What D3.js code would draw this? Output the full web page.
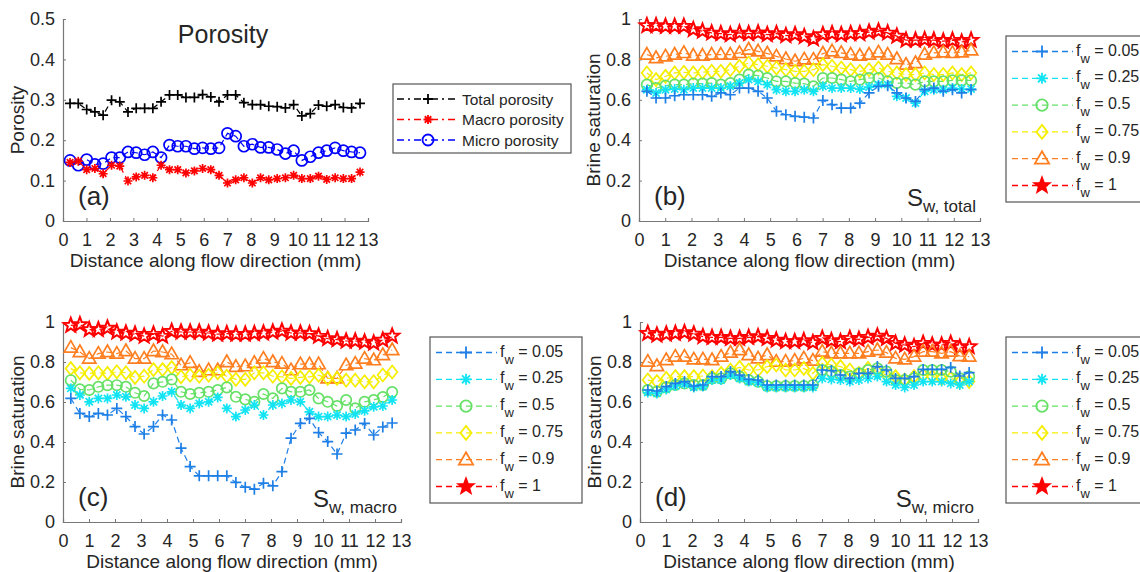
<!DOCTYPE html>
<html><head><meta charset="utf-8">
<script src="https://cdn.jsdelivr.net/npm/d3@7"></script>
<style>body{margin:0;background:#fff}svg{display:block}text{font-family:"Liberation Sans",Arial,sans-serif;fill:#262626}</style>
</head><body><svg id="chart" width="1140" height="572"></svg>
<script>
// ---------------- DATA ----------------
const distance = [0.30,0.65,1.01,1.36,1.71,2.07,2.42,2.77,3.12,3.48,3.83,4.18,4.54,4.89,5.24,5.60,5.95,6.30,6.65,7.01,7.36,7.71,8.07,8.42,8.77,9.13,9.48,9.83,10.18,10.54,10.89,11.24,11.60,11.95,12.30,12.66];
const xTicks = [0,1,2,3,4,5,6,7,8,9,10,11,12,13];
const porosityTicks = [0,0.1,0.2,0.3,0.4,0.5];
const saturationTicks = [0,0.2,0.4,0.6,0.8,1];

const totalPorosity = [0.291,0.291,0.276,0.270,0.262,0.299,0.295,0.270,0.279,0.279,0.279,0.295,0.312,0.312,0.306,0.306,0.313,0.307,0.295,0.312,0.312,0.293,0.288,0.288,0.284,0.283,0.280,0.288,0.260,0.266,0.287,0.284,0.288,0.281,0.280,0.291];
const macroPorosity = [0.145,0.148,0.127,0.130,0.117,0.138,0.136,0.099,0.109,0.113,0.107,0.138,0.127,0.127,0.119,0.124,0.130,0.127,0.113,0.094,0.102,0.107,0.094,0.107,0.102,0.105,0.107,0.113,0.105,0.105,0.111,0.103,0.107,0.105,0.105,0.121];
const microPorosity = [0.150,0.138,0.152,0.140,0.142,0.157,0.157,0.171,0.169,0.164,0.171,0.157,0.188,0.185,0.185,0.179,0.181,0.179,0.181,0.217,0.210,0.185,0.190,0.182,0.182,0.177,0.167,0.174,0.150,0.159,0.169,0.174,0.181,0.174,0.171,0.169];
const porosityNames = ["Total porosity","Macro porosity","Micro porosity"];

const fwLabels = ["0.05","0.25","0.5","0.75","0.9","1"];

// (b) S_w, total
const totalFw005 = [0.642,0.609,0.609,0.620,0.625,0.625,0.625,0.617,0.634,0.625,0.658,0.658,0.642,0.609,0.543,0.526,0.518,0.514,0.510,0.597,0.576,0.559,0.559,0.584,0.634,0.667,0.670,0.634,0.609,0.592,0.650,0.658,0.642,0.650,0.634,0.650];
const totalFw025 = [0.650,0.634,0.650,0.653,0.650,0.658,0.658,0.658,0.658,0.667,0.683,0.700,0.691,0.675,0.650,0.642,0.642,0.650,0.642,0.667,0.658,0.658,0.658,0.653,0.663,0.675,0.675,0.617,0.609,0.584,0.642,0.650,0.650,0.658,0.653,0.653];
const totalFw05  = [0.675,0.658,0.670,0.675,0.675,0.680,0.680,0.683,0.675,0.683,0.700,0.725,0.720,0.708,0.691,0.691,0.683,0.680,0.667,0.708,0.708,0.700,0.691,0.700,0.708,0.708,0.691,0.683,0.683,0.675,0.691,0.691,0.691,0.696,0.696,0.696];
const totalFw075 = [0.733,0.700,0.716,0.733,0.736,0.733,0.736,0.741,0.741,0.749,0.766,0.782,0.774,0.766,0.757,0.749,0.741,0.741,0.749,0.774,0.766,0.757,0.749,0.741,0.749,0.757,0.741,0.733,0.725,0.725,0.733,0.725,0.725,0.733,0.725,0.733];
const totalFw09  = [0.824,0.807,0.815,0.824,0.832,0.819,0.819,0.824,0.824,0.824,0.832,0.849,0.840,0.829,0.815,0.802,0.791,0.800,0.799,0.829,0.840,0.832,0.824,0.819,0.824,0.835,0.824,0.802,0.774,0.782,0.824,0.832,0.835,0.832,0.835,0.845];
const totalFw1   = [0.967,0.967,0.964,0.964,0.964,0.948,0.940,0.931,0.928,0.923,0.931,0.928,0.931,0.923,0.928,0.918,0.923,0.913,0.902,0.923,0.928,0.923,0.928,0.928,0.935,0.940,0.931,0.915,0.895,0.895,0.898,0.895,0.890,0.895,0.886,0.895];

// (c) S_w, macro
const macroFw005 = [0.618,0.543,0.527,0.543,0.535,0.568,0.527,0.477,0.440,0.477,0.535,0.510,0.369,0.277,0.231,0.231,0.231,0.231,0.198,0.174,0.164,0.194,0.181,0.252,0.419,0.493,0.518,0.447,0.402,0.340,0.444,0.460,0.493,0.435,0.475,0.495];
const macroFw025 = [0.668,0.635,0.601,0.618,0.618,0.635,0.626,0.585,0.568,0.601,0.630,0.651,0.585,0.568,0.593,0.601,0.623,0.568,0.527,0.560,0.585,0.535,0.585,0.593,0.610,0.601,0.551,0.527,0.527,0.535,0.527,0.540,0.556,0.576,0.580,0.610];
const macroFw05  = [0.709,0.663,0.660,0.676,0.684,0.684,0.676,0.646,0.630,0.693,0.701,0.713,0.651,0.640,0.646,0.651,0.660,0.673,0.626,0.613,0.601,0.640,0.618,0.668,0.651,0.651,0.660,0.618,0.601,0.580,0.610,0.568,0.601,0.610,0.625,0.650];
const macroFw075 = [0.767,0.746,0.743,0.746,0.743,0.751,0.746,0.723,0.729,0.762,0.762,0.772,0.726,0.734,0.729,0.734,0.746,0.729,0.713,0.713,0.746,0.746,0.729,0.726,0.718,0.723,0.726,0.734,0.718,0.718,0.709,0.709,0.701,0.701,0.735,0.750];
const macroFw09  = [0.872,0.850,0.817,0.842,0.850,0.842,0.855,0.817,0.817,0.855,0.850,0.839,0.784,0.796,0.751,0.759,0.759,0.800,0.776,0.779,0.796,0.817,0.800,0.792,0.759,0.789,0.789,0.789,0.718,0.718,0.784,0.792,0.817,0.809,0.835,0.860];
const macroFw1   = [0.983,0.987,0.962,0.962,0.970,0.950,0.945,0.939,0.929,0.939,0.929,0.953,0.950,0.950,0.950,0.945,0.939,0.942,0.939,0.939,0.942,0.945,0.950,0.955,0.945,0.945,0.942,0.929,0.917,0.912,0.905,0.905,0.900,0.895,0.910,0.930];

// (d) S_w, micro
const microFw005 = [0.660,0.655,0.677,0.693,0.702,0.680,0.685,0.727,0.727,0.752,0.735,0.713,0.710,0.685,0.685,0.685,0.685,0.685,0.685,0.760,0.757,0.735,0.718,0.743,0.743,0.777,0.760,0.718,0.718,0.727,0.763,0.763,0.763,0.773,0.730,0.747];
const microFw025 = [0.647,0.643,0.663,0.680,0.690,0.673,0.677,0.710,0.710,0.735,0.718,0.702,0.697,0.673,0.673,0.673,0.673,0.673,0.673,0.718,0.713,0.710,0.702,0.710,0.718,0.727,0.702,0.685,0.673,0.685,0.702,0.702,0.702,0.693,0.685,0.702];
const microFw05  = [0.660,0.652,0.673,0.685,0.693,0.685,0.685,0.718,0.718,0.743,0.727,0.710,0.702,0.680,0.680,0.680,0.680,0.680,0.685,0.760,0.752,0.735,0.727,0.743,0.760,0.768,0.752,0.710,0.710,0.718,0.760,0.760,0.760,0.752,0.718,0.727];
const microFw075 = [0.710,0.702,0.718,0.727,0.727,0.727,0.730,0.727,0.743,0.760,0.773,0.760,0.760,0.777,0.785,0.760,0.760,0.768,0.743,0.793,0.785,0.777,0.760,0.743,0.768,0.752,0.735,0.727,0.710,0.727,0.735,0.727,0.718,0.718,0.702,0.702];
const microFw09  = [0.802,0.780,0.810,0.827,0.827,0.813,0.813,0.810,0.827,0.847,0.860,0.835,0.818,0.835,0.802,0.802,0.807,0.818,0.807,0.852,0.843,0.843,0.843,0.843,0.852,0.860,0.847,0.818,0.813,0.827,0.852,0.852,0.843,0.852,0.830,0.827];
const microFw1   = [0.943,0.935,0.940,0.943,0.947,0.940,0.927,0.923,0.923,0.918,0.918,0.923,0.927,0.918,0.910,0.902,0.902,0.907,0.897,0.918,0.907,0.902,0.918,0.913,0.923,0.930,0.918,0.893,0.885,0.877,0.893,0.885,0.885,0.893,0.873,0.877];

// ---------------- STYLE ----------------
const fwColors = ["#1e7fe6","#12e4f4","#66e066","#f5ee00","#ff7f20","#ff0000"];
const fwMarkers = ["plus","asterisk","circle","diamond","triangle","star"];
const fwSizes = [5.5,5,5.2,6.5,7,7.5];
const porColors = ["#000000","#ff0000","#0000ff"];
const porMarkers = ["plus","asterisk","circle"];
const porSizes = [5,4.5,5.5];

const svg = d3.select("#chart");

function markerPath(type, r){
  if(type==="plus") return `M${-r},0H${r}M0,${-r}V${r}`;
  if(type==="asterisk"){const d=r*0.72;return `M${-r},0H${r}M0,${-r}V${r}M${-d},${-d}L${d},${d}M${-d},${d}L${d},${-d}`;}
  if(type==="circle") return `M${r},0A${r},${r} 0 1,1 ${-r},0A${r},${r} 0 1,1 ${r},0Z`;
  if(type==="diamond") return `M0,${-r}L${r*0.8},0L0,${r}L${-r*0.8},0Z`;
  if(type==="triangle") return `M0,${-r}L${r*0.95},${r*0.65}L${-r*0.95},${r*0.65}Z`;
  if(type==="star"){
    let p=[];for(let k=0;k<10;k++){const a=-Math.PI/2+k*Math.PI/5;const rr=k%2?r*0.42:r;p.push([rr*Math.cos(a),rr*Math.sin(a)]);}
    return "M"+p.map(q=>q[0].toFixed(2)+","+q[1].toFixed(2)).join("L")+"Z";
  }
}

function drawPanel(cfg, series){
  const x = d3.scaleLinear().domain([0,13]).range([cfg.left,cfg.right]);
  const y = d3.scaleLinear().domain([0,cfg.ymax]).range([cfg.bottom,cfg.top]);
  const g = svg.append("g");
  const xa = g.append("g").attr("transform",`translate(0,${cfg.bottom})`)
    .call(d3.axisBottom(x).tickValues(xTicks).tickSize(-3).tickPadding(9).tickFormat(d3.format("d")));
  const ya = g.append("g").attr("transform",`translate(${cfg.left},0)`)
    .call(d3.axisLeft(y).tickValues(cfg.ticks).tickSize(-3).tickPadding(8).tickFormat(d=>String(d)));
  [xa,ya].forEach(a=>{
    a.select(".domain").attr("stroke","#777").attr("stroke-width",1.2);
    a.selectAll(".tick line").attr("stroke","#777");
    a.selectAll("text").style("font-size","18px").attr("fill","#262626");
  });
  xa.selectAll("text").attr("dy","0.9em");
  g.append("text").attr("x",(cfg.left+cfg.right)/2).attr("y",cfg.bottom+46)
    .attr("text-anchor","middle").style("font-size","19px").text("Distance along flow direction (mm)");
  g.append("text").attr("transform",`translate(${cfg.left-39},${(cfg.top+cfg.bottom)/2}) rotate(-90)`)
    .attr("text-anchor","middle").style("font-size","19px").text(cfg.ylabel);
  const line = d3.line().x(d=>x(d[0])).y(d=>y(d[1]));
  series.slice().reverse().forEach(s=>{
    const pts = distance.map((d,i)=>[d,s.values[i]]);
    g.append("path").attr("d",line(pts)).attr("fill","none").attr("stroke",s.color)
      .attr("stroke-width",1.2).attr("stroke-dasharray","6,4");
    g.selectAll(null).data(pts).enter().append("path")
      .attr("transform",d=>`translate(${x(d[0])},${y(d[1])})`)
      .attr("d",markerPath(s.marker,s.size)).attr("fill","none")
      .attr("stroke",s.color).attr("stroke-width",s.marker==="star"?2:1.7);
  });
  g.append("text").attr("x",cfg.left+15).attr("y",cfg.bottom-16).style("font-size","26px").text(cfg.letter);
  if(cfg.sub){
    const t=g.append("text").attr("x",cfg.right-4).attr("y",cfg.bottom-15).attr("text-anchor","end");
    t.append("tspan").style("font-size","24px").text("S");
    t.append("tspan").style("font-size","17px").attr("dy",6).text(cfg.sub);
  }
}

function drawFwLegend(left, top){
  const g = svg.append("g");
  g.append("rect").attr("x",left).attr("y",top).attr("width",152).attr("height",166)
    .attr("fill","#fff").attr("stroke","#555").attr("stroke-width",1.2);
  fwLabels.forEach((lab,k)=>{
    const yy = top+15.5+k*26.8;
    g.append("line").attr("x1",left+6).attr("x2",left+67).attr("y1",yy).attr("y2",yy)
      .attr("stroke",fwColors[k]).attr("stroke-width",1.3).attr("stroke-dasharray","6,4");
    g.append("path").attr("transform",`translate(${left+36},${yy})`).attr("d",markerPath(fwMarkers[k],fwSizes[k]+0.5))
      .attr("fill",fwMarkers[k]==="star"?fwColors[k]:"none").attr("stroke",fwColors[k]).attr("stroke-width",1.8);
    const t = g.append("text").attr("x",left+70).attr("y",yy+4).style("font-size","16px");
    t.append("tspan").text("f");
    t.append("tspan").attr("dy",7).style("font-size","13px").text("w");
    t.append("tspan").attr("dy",-7).text(" = "+lab);
  });
}

// Panel (a)
drawPanel({left:63,right:368,top:19,bottom:221,ymax:0.5,ticks:porosityTicks,ylabel:"Porosity",letter:"(a)"},
  [totalPorosity,macroPorosity,microPorosity].map((v,k)=>({values:v,color:porColors[k],marker:porMarkers[k],size:porSizes[k]})));
svg.append("text").attr("x",223).attr("y",43).attr("text-anchor","middle").style("font-size","25px").text("Porosity");
(function(){
  const left=393, top=84;
  const g = svg.append("g");
  g.append("rect").attr("x",left).attr("y",top).attr("width",178).attr("height",69)
    .attr("fill","#fff").attr("stroke","#555").attr("stroke-width",1.2);
  porosityNames.forEach((nm,k)=>{
    const yy = top+15+k*20.5;
    g.append("line").attr("x1",left+4).attr("x2",left+64).attr("y1",yy).attr("y2",yy)
      .attr("stroke",porColors[k]).attr("stroke-width",1.3).attr("stroke-dasharray","7,4,2,4");
    g.append("path").attr("transform",`translate(${left+35},${yy})`).attr("d",markerPath(porMarkers[k],porSizes[k]))
      .attr("fill","none").attr("stroke",porColors[k]).attr("stroke-width",1.8);
    g.append("text").attr("x",left+69).attr("y",yy+5.5).style("font-size","15.5px").text(nm);
  });
})();

const mk = arr => arr.map((v,k)=>({values:v,color:fwColors[k],marker:fwMarkers[k],size:fwSizes[k]}));
drawPanel({left:639,right:980,top:19,bottom:221,ymax:1,ticks:saturationTicks,ylabel:"Brine saturation",letter:"(b)",sub:"w, total"},
  mk([totalFw005,totalFw025,totalFw05,totalFw075,totalFw09,totalFw1]));
drawPanel({left:63,right:401,top:322,bottom:522,ymax:1,ticks:saturationTicks,ylabel:"Brine saturation",letter:"(c)",sub:"w, macro"},
  mk([macroFw005,macroFw025,macroFw05,macroFw075,macroFw09,macroFw1]));
drawPanel({left:640,right:978,top:322,bottom:522,ymax:1,ticks:saturationTicks,ylabel:"Brine saturation",letter:"(d)",sub:"w, micro"},
  mk([microFw005,microFw025,microFw05,microFw075,microFw09,microFw1]));

drawFwLegend(1006,36);
drawFwLegend(430,337);
drawFwLegend(1006,337);
</script></body></html>
